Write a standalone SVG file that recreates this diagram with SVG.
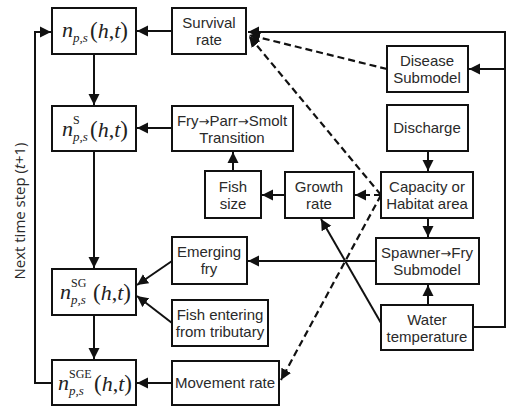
<svg xmlns="http://www.w3.org/2000/svg" width="507" height="409" viewBox="0 0 507 409">
<style>
.box{fill:#fff;stroke:#111;stroke-width:2}
.t{font-family:"Liberation Sans",Arial,sans-serif;font-size:15px;fill:#2a2a2a;text-anchor:middle}
.ar{font-family:"DejaVu Sans",sans-serif;font-size:13px}
.m{font-family:"Liberation Serif","Times New Roman",serif;fill:#222}
.mi{font-style:italic}
.c{fill:none;stroke:#111;stroke-width:2}
.d{fill:none;stroke:#111;stroke-width:2.2;stroke-dasharray:7,4}
.side{font-family:"Open Sans","DejaVu Sans",sans-serif;font-size:15px;fill:#2a2a2a;text-anchor:middle}
</style>
<defs>
<marker id="ah" markerUnits="userSpaceOnUse" markerWidth="12" markerHeight="12" refX="11" refY="6" orient="auto">
<path d="M0,0.5 L11,6 L0,11.5 z" fill="#111"/>
</marker>
</defs>

<g id="connectors">
<line class="c" x1="172" y1="31" x2="137" y2="31" marker-end="url(#ah)"/>
<line class="c" x1="94" y1="54" x2="94" y2="105" marker-end="url(#ah)"/>
<line class="c" x1="172" y1="128" x2="137" y2="128" marker-end="url(#ah)"/>
<line class="c" x1="94" y1="151" x2="94" y2="268" marker-end="url(#ah)"/>
<line class="c" x1="172" y1="261" x2="137" y2="285" marker-end="url(#ah)"/>
<line class="c" x1="172" y1="323" x2="137" y2="296" marker-end="url(#ah)"/>
<line class="c" x1="94" y1="315" x2="94" y2="359" marker-end="url(#ah)"/>
<line class="c" x1="172" y1="383" x2="137" y2="383" marker-end="url(#ah)"/>
<polyline class="c" points="52,383 35,383 35,32 51,32" marker-end="url(#ah)"/>
<line class="c" x1="233" y1="171" x2="233" y2="152" marker-end="url(#ah)"/>
<line class="c" x1="285" y1="195" x2="262" y2="195" marker-end="url(#ah)"/>
<line class="d" x1="381" y1="195" x2="355" y2="195" marker-end="url(#ah)"/>
<line class="c" x1="428" y1="151" x2="428" y2="171" marker-end="url(#ah)"/>
<line class="c" x1="428" y1="218" x2="428" y2="237" marker-end="url(#ah)"/>
<line class="c" x1="376" y1="261" x2="248" y2="261" marker-end="url(#ah)"/>
<line class="c" x1="428" y1="305" x2="428" y2="285" marker-end="url(#ah)"/>
<line class="c" x1="381" y1="323" x2="321" y2="219" marker-end="url(#ah)"/>
<line class="d" x1="381" y1="195" x2="249" y2="36" marker-end="url(#ah)"/>
<line class="d" x1="387" y1="69" x2="249" y2="35" marker-end="url(#ah)"/>
<line class="d" x1="381" y1="195" x2="281" y2="380" marker-end="url(#ah)"/>
<polyline class="c" points="473,327 505,327 505,32 248,32" marker-end="url(#ah)"/>
<line class="c" x1="505" y1="69" x2="469" y2="69" marker-end="url(#ah)"/>
</g>

<text class="side" transform="translate(25,211) rotate(-90)">Next time step (<tspan font-style="italic">t</tspan>+1)</text>

<g id="n">
<rect class="box" x="52" y="8" width="84" height="46"/>
<text class="m" y="37"><tspan class="mi" x="62" font-size="22">n</tspan><tspan class="mi" x="73" y="42" font-size="13">p,s</tspan><tspan x="90" y="38" font-size="23">(</tspan><tspan class="mi" font-size="22">h</tspan><tspan font-size="22">,</tspan><tspan class="mi" font-size="22">t</tspan><tspan font-size="23">)</tspan></text>
</g>
<g id="nS">
<rect class="box" x="52" y="106" width="84" height="45"/>
<text class="m" y="136"><tspan class="mi" x="62" font-size="22">n</tspan><tspan x="73" y="124" font-size="12">S</tspan><tspan class="mi" x="73" y="141" font-size="13">p,s</tspan><tspan x="90" y="137" font-size="23">(</tspan><tspan class="mi" font-size="22">h</tspan><tspan font-size="22">,</tspan><tspan class="mi" font-size="22">t</tspan><tspan font-size="23">)</tspan></text>
</g>
<g id="nSG">
<rect class="box" x="52" y="269" width="84" height="46"/>
<text class="m" y="299"><tspan class="mi" x="60" font-size="22">n</tspan><tspan x="71" y="287" font-size="12">SG</tspan><tspan class="mi" x="71" y="304" font-size="13">p,s</tspan><tspan x="93" y="300" font-size="23">(</tspan><tspan class="mi" font-size="22">h</tspan><tspan font-size="22">,</tspan><tspan class="mi" font-size="22">t</tspan><tspan font-size="23">)</tspan></text>
</g>
<g id="nSGE">
<rect class="box" x="52" y="360" width="84" height="45"/>
<text class="m" y="390"><tspan class="mi" x="58" font-size="22">n</tspan><tspan x="69" y="378" font-size="12">SGE</tspan><tspan class="mi" x="69" y="395" font-size="13">p,s</tspan><tspan x="94" y="391" font-size="23">(</tspan><tspan class="mi" font-size="22">h</tspan><tspan font-size="22">,</tspan><tspan class="mi" font-size="22">t</tspan><tspan font-size="23">)</tspan></text>
</g>

<g id="survival">
<rect class="box" x="172" y="8" width="74" height="46"/>
<text class="t" x="209" y="28">Survival</text>
<text class="t" x="209" y="45">rate</text>
</g>
<g id="transition">
<rect class="box" x="172" y="106" width="121" height="45"/>
<text class="t" x="232" y="126">Fry<tspan class="ar">→</tspan>Parr<tspan class="ar">→</tspan>Smolt</text>
<text class="t" x="232" y="143">Transition</text>
</g>
<g id="fishsize">
<rect class="box" x="205" y="171" width="56" height="47"/>
<text class="t" x="233" y="192">Fish</text>
<text class="t" x="233" y="209">size</text>
</g>
<g id="growth">
<rect class="box" x="285" y="172" width="69" height="46"/>
<text class="t" x="319" y="192">Growth</text>
<text class="t" x="319" y="209">rate</text>
</g>
<g id="capacity">
<rect class="box" x="381" y="172" width="92" height="46"/>
<text class="t" x="427" y="192">Capacity or</text>
<text class="t" x="427" y="209">Habitat area</text>
</g>
<g id="discharge">
<rect class="box" x="387" y="105" width="81" height="46"/>
<text class="t" x="427" y="133">Discharge</text>
</g>
<g id="disease">
<rect class="box" x="387" y="46" width="81" height="46"/>
<text class="t" x="427" y="66">Disease</text>
<text class="t" x="427" y="83">Submodel</text>
</g>
<g id="spawner">
<rect class="box" x="376" y="238" width="103" height="46"/>
<text class="t" x="427" y="258">Spawner<tspan class="ar">→</tspan>Fry</text>
<text class="t" x="427" y="275">Submodel</text>
</g>
<g id="water">
<rect class="box" x="381" y="305" width="92" height="45"/>
<text class="t" x="427" y="325">Water</text>
<text class="t" x="427" y="342">temperature</text>
</g>
<g id="emerging">
<rect class="box" x="172" y="237" width="75" height="47"/>
<text class="t" x="209" y="257">Emerging</text>
<text class="t" x="209" y="274">fry</text>
</g>
<g id="entering">
<rect class="box" x="172" y="300" width="96" height="46"/>
<text class="t" x="220" y="320">Fish entering</text>
<text class="t" x="220" y="337">from tributary</text>
</g>
<g id="movement">
<rect class="box" x="172" y="361" width="107" height="44"/>
<text class="t" x="225" y="388">Movement rate</text>
</g>
</svg>
